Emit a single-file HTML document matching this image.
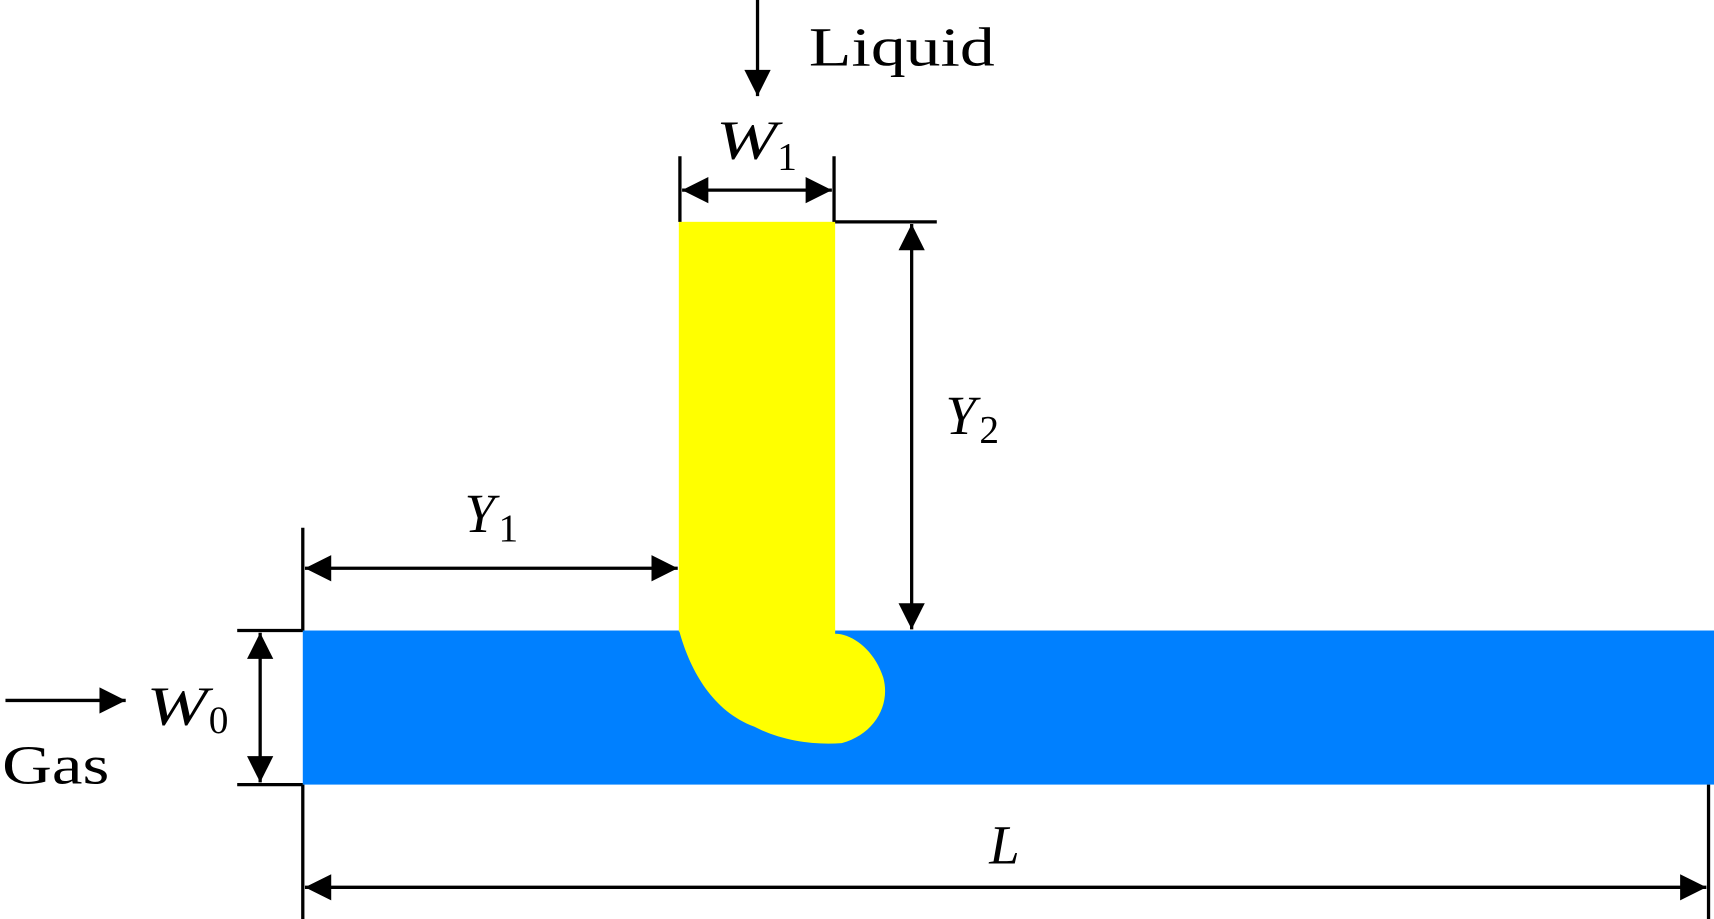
<!DOCTYPE html>
<html><head><meta charset="utf-8"><style>
html,body{margin:0;padding:0;background:#fff;}
svg{display:block;}
text{font-family:"Liberation Serif",serif;fill:#000;}
</style></head><body>
<svg width="1714" height="919" viewBox="0 0 1568 841" preserveAspectRatio="none" xmlns="http://www.w3.org/2000/svg">
<defs>
<marker id="a" viewBox="0 0 10 10" refX="10" refY="5" markerWidth="8.5" markerHeight="8" markerUnits="strokeWidth" orient="auto-start-reverse">
<path d="M0,0 L10,5 L0,10 z" fill="#000"/></marker>
</defs>
<rect x="277" y="577" width="1291" height="141" fill="#0080FF"/>
<rect x="621" y="203" width="143" height="375" fill="#FFFF00"/>
<path d="M621,576 C630,610 650,650 690,665 C715,678 745,682 770,680 C800,672 815,645 808,620 C800,595 780,580 764,580 L764,576 Z" fill="#FFFF00"/>
<g stroke="#000" stroke-width="3" fill="none">
<line x1="693" y1="0" x2="693" y2="88" marker-end="url(#a)"/>
<line x1="622" y1="143" x2="622" y2="203"/>
<line x1="763" y1="143" x2="763" y2="203"/>
<line x1="624" y1="174" x2="761" y2="174" marker-start="url(#a)" marker-end="url(#a)"/>
<line x1="764" y1="203" x2="857" y2="203"/>
<line x1="834" y1="205" x2="834" y2="576" marker-start="url(#a)" marker-end="url(#a)"/>
<line x1="277" y1="483" x2="277" y2="577"/>
<line x1="279" y1="520" x2="620" y2="520" marker-start="url(#a)" marker-end="url(#a)"/>
<line x1="217" y1="577" x2="277" y2="577"/>
<line x1="217" y1="718" x2="277" y2="718"/>
<line x1="238" y1="579" x2="238" y2="716" marker-start="url(#a)" marker-end="url(#a)"/>
<line x1="5" y1="641" x2="115" y2="641" marker-end="url(#a)"/>
<line x1="277" y1="718" x2="277" y2="841"/>
<line x1="1563" y1="718" x2="1563" y2="841"/>
<line x1="279" y1="812" x2="1561" y2="812" marker-start="url(#a)" marker-end="url(#a)"/>
</g>
<text x="740" y="60" font-size="50" textLength="170" lengthAdjust="spacingAndGlyphs">Liquid</text>
<text x="2" y="717" font-size="50" textLength="98" lengthAdjust="spacingAndGlyphs">Gas</text>
<text x="655" y="145" font-size="50" font-style="italic" textLength="56" lengthAdjust="spacingAndGlyphs">W</text><text x="711" y="155" font-size="36">1</text>
<text x="865" y="397" font-size="50" font-style="italic">Y</text><text x="896" y="405" font-size="36">2</text>
<text x="425" y="487" font-size="50" font-style="italic">Y</text><text x="456" y="495" font-size="36">1</text>
<text x="134" y="663" font-size="50" font-style="italic" textLength="56" lengthAdjust="spacingAndGlyphs">W</text><text x="191" y="671" font-size="36">0</text>
<text x="905" y="790" font-size="50" font-style="italic">L</text>
</svg>
</body></html>
